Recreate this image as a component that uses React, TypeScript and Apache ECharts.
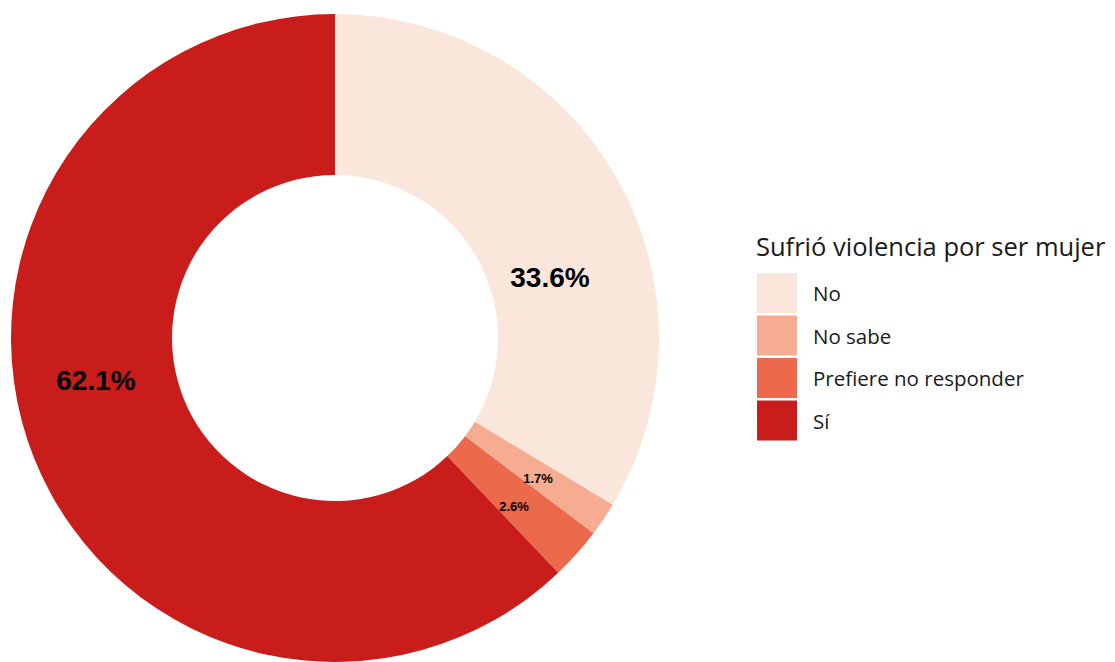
import React, { useEffect, useRef } from "react";
import * as echarts from "echarts";

const categories = ["No", "No sabe", "Prefiere no responder", "Sí"];
const values = [33.6, 1.7, 2.6, 62.1];
const colors = ["#FAE6DA", "#F6AC91", "#EC6A4B", "#C91D1C"];
const legendTitle = "Sufrió violencia por ser mujer";

// label placement (pixel anchors) and sizes
const labelAnchors = [
  [550, 277],
  [538, 478],
  [514, 506],
  [96, 380],
];
const labelSizes = [28, 13, 13, 28];

export default function App() {
  const ref = useRef<HTMLDivElement>(null);
  useEffect(() => {
    document.body.style.margin = "0";
    const chart = echarts.init(ref.current!, null, { renderer: "svg" });
    chart.setOption({
      animation: false,
      title: {
        text: legendTitle,
        left: 756,
        top: 233,
        textStyle: {
          fontFamily: "Open Sans",
          fontWeight: "normal",
          fontSize: 25.5,
          color: "#1a1a1a",
        },
        padding: 0,
      },
      legend: {
        orient: "vertical",
        left: 757,
        top: 273,
        itemWidth: 40,
        itemHeight: 40,
        itemGap: 2.5,
        icon: "rect",
        padding: 0,
        textStyle: {
          fontFamily: "Open Sans",
          fontSize: 20.5,
          color: "#1a1a1a",
          padding: [3, 0, 0, 11],
        },
        data: categories,
      },
      series: [
        {
          type: "pie",
          center: [335, 338],
          radius: [163, 324],
          startAngle: 90,
          clockwise: true,
          avoidLabelOverlap: false,
          label: {
            show: true,
            position: "inside",
            formatter: (p: any) => values[p.dataIndex].toFixed(1) + "%",
            fontFamily: "Liberation Sans, Arial, sans-serif",
            fontWeight: "bold",
            color: "#000",
            align: "center",
            verticalAlign: "middle",
          },
          labelLine: { show: false },
          labelLayout: (p: any) => ({
            x: labelAnchors[p.dataIndex][0],
            y: labelAnchors[p.dataIndex][1],
            align: "center",
            verticalAlign: "middle",
            fontSize: labelSizes[p.dataIndex],
          }),
          itemStyle: { borderWidth: 0 },
          emphasis: { disabled: true },
          data: categories.map((c, i) => ({
            name: c,
            value: values[i],
            itemStyle: { color: colors[i] },
            label: { fontSize: labelSizes[i] },
          })),
        },
      ],
    });
    return () => chart.dispose();
  }, []);
  return <div ref={ref} style={{ width: 1115, height: 662 }} />;
}
